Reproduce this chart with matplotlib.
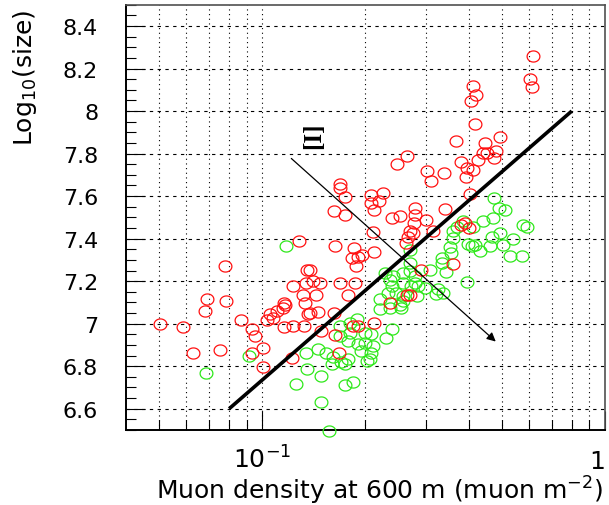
import numpy as np
import matplotlib
matplotlib.use("Agg")
import matplotlib.pyplot as plt
from matplotlib.path import Path
from matplotlib.transforms import blended_transform_factory

plt.rcParams['font.family'] = ['DejaVu Sans']
plt.rcParams['mathtext.fontset'] = 'dejavusans'

# log10(muon density) and log10(size)
red_log_rho = [-1.110, -1.162, -1.107, -1.166, -1.299, -1.232, -1.061, -1.030, -1.020, -1.202,
               -1.124, -0.998, -1.030, -0.997, -0.987, -0.979, -0.958, -0.970, -0.937, -0.911,
               -0.937, -0.912, -0.878, -0.914, -0.870, -0.893, -0.881, -0.842, -0.876, -0.862,
               -0.838, -0.867, -0.935, -0.940, -0.791, -0.828, -0.789, -0.735, -0.721, -0.674,
               -0.776, -0.628, -0.579, -0.750, -0.579, -0.607, -0.774, -0.774, -0.760, -0.682,
               -0.649, -0.659, -0.682, -0.675, -0.791, -0.759, -0.623, -0.597, -0.554, -0.555,
               -0.558, -0.677, -0.788, -0.733, -0.674, -0.708, -0.737, -0.721, -0.727, -0.862,
               -0.874, -0.852, -0.831, -0.774, -0.730, -0.570, -0.560, -0.575, -0.581, -0.209,
               -0.219, -0.214, -0.385, -0.375, -0.391, -0.380, -0.307, -0.435, -0.350, -0.357,
               -0.344, -0.318, -0.324, -0.370, -0.419, -0.404, -0.385, -0.406, -0.519, -0.509,
               -0.470, -0.394, -0.521, -0.467, -0.502, -0.409, -0.396, -0.419, -0.443, -0.536,
               -0.570]
red_log_size = [7.273, 7.118, 7.109, 7.059, 7.000, 6.986, 7.019, 6.973, 6.942, 6.862,
                6.874, 6.884, 6.864, 6.794, 7.015, 7.044, 7.062, 7.025, 7.098, 7.176,
                6.984, 6.989, 6.989, 6.837, 7.251, 7.390, 7.137, 7.137, 7.095, 7.052,
                7.054, 7.044, 7.090, 7.075, 7.048, 6.965, 6.945, 6.989, 6.989, 7.005,
                6.864, 7.098, 7.133, 7.133, 7.790, 7.751, 7.657, 7.638, 7.598, 7.606,
                7.616, 7.578, 7.567, 7.535, 7.532, 7.513, 7.496, 7.507, 7.543, 7.512,
                7.473, 7.429, 7.367, 7.354, 7.335, 7.325, 7.309, 7.314, 7.270, 7.254,
                7.189, 7.200, 7.192, 7.189, 7.192, 7.434, 7.426, 7.410, 7.379, 8.261,
                8.152, 8.113, 8.116, 8.074, 8.046, 7.941, 7.879, 7.859, 7.848, 7.801,
                7.801, 7.812, 7.778, 7.770, 7.762, 7.731, 7.723, 7.691, 7.718, 7.671,
                7.707, 7.610, 7.489, 7.540, 7.434, 7.473, 7.450, 7.465, 7.281, 7.254,
                7.137]

green_log_rho = [-1.038, -1.164, -0.932, -0.874, -0.871, -0.901, -0.657, -0.633, -0.594, -0.589,
                 -0.725, -0.774, -0.774, -0.745, -0.701, -0.682, -0.623, -0.638, -0.750, -0.721,
                 -0.701, -0.677, -0.711, -0.682, -0.687, -0.696, -0.838, -0.813, -0.794, -0.798,
                 -0.769, -0.750, -0.760, -0.828, -0.760, -0.735, -0.828, -0.805, -0.745, -0.618,
                 -0.628, -0.623, -0.589, -0.570, -0.555, -0.565, -0.545, -0.589, -0.550, -0.570,
                 -0.323, -0.309, -0.292, -0.328, -0.356, -0.385, -0.414, -0.433, -0.443, -0.239,
                 -0.229, -0.307, -0.331, -0.268, -0.297, -0.336, -0.365, -0.380, -0.399, -0.389,
                 -0.278, -0.242, -0.443, -0.453, -0.448, -0.477, -0.477, -0.465, -0.511, -0.526,
                 -0.487, -0.472, -0.492, -0.404, -0.555, -0.589, -0.609, -0.628, -0.599, -0.657,
                 -0.570, -0.643]
green_log_size = [6.848, 6.769, 7.367, 6.864, 6.786, 6.716, 7.117, 7.145, 7.075, 7.106,
                  7.020, 6.989, 6.942, 6.958, 6.958, 6.950, 6.977, 6.931, 6.918, 6.903,
                  6.911, 6.895, 6.872, 6.864, 6.836, 6.825, 6.880, 6.864, 6.841, 6.809,
                  6.820, 6.833, 6.809, 6.752, 6.711, 6.724, 6.633, 6.497, 7.005, 7.223,
                  7.207, 7.176, 7.239, 7.246, 7.223, 7.176, 7.176, 7.129, 7.129, 7.348,
                  7.590, 7.543, 7.535, 7.496, 7.484, 7.457, 7.484, 7.457, 7.434, 7.465,
                  7.457, 7.426, 7.406, 7.398, 7.368, 7.363, 7.343, 7.371, 7.375, 7.363,
                  7.317, 7.320, 7.403, 7.359, 7.333, 7.309, 7.286, 7.242, 7.254, 7.169,
                  7.161, 7.145, 7.141, 7.195, 7.192, 7.192, 7.145, 7.075, 7.090, 7.067,
                  7.286, 7.239]

# separation line and direction arrow
cut_rho = [0.08, 0.8]
cut_size = [6.6, 8.0]
arrow_start = (0.1215, 7.777)
arrow_end = (0.480, 6.916)
arrow_label = "[I]"
arrow_label_pos = (0.141, 7.887)

y_major = [6.6, 6.8, 7.0, 7.2, 7.4, 7.6, 7.8, 8.0, 8.2, 8.4]
x_minor = [0.05, 0.06, 0.07, 0.08, 0.09, 0.2, 0.3, 0.4, 0.5, 0.6, 0.7, 0.8, 0.9]

fig = plt.figure(figsize=(6.09, 5.06), dpi=100)
ax = fig.add_axes([0.2069, 0.1482, 0.7865, 0.8405])

# slightly wide open rings, like the reference (polygon so the size is exact)
t = np.linspace(0, 2 * np.pi, 61)
ring = Path(np.column_stack([np.cos(t), np.sin(t) / 1.15]), closed=True)

ax.plot(10 ** np.array(green_log_rho), green_log_size, ls='none', marker=ring,
        ms=9.2, mfc='none', mec='#2ee81a', mew=0.9, clip_on=False, zorder=3)
ax.plot(10 ** np.array(red_log_rho), red_log_size, ls='none', marker=ring,
        ms=9.2, mfc='none', mec='#ff1010', mew=0.9, clip_on=False, zorder=4)

ax.plot(cut_rho, cut_size, color='k', lw=2.6, solid_capstyle='butt', zorder=5)
ax.annotate('', xy=arrow_end, xytext=arrow_start,
            arrowprops=dict(arrowstyle='-|>', color='k', lw=0.9, mutation_scale=13,
                            shrinkA=0, shrinkB=0), zorder=5)
ax.text(arrow_label_pos[0], arrow_label_pos[1], arrow_label, rotation=90,
        ha='center', va='center', fontsize=18, fontweight='bold',
        family=['Liberation Serif', 'DejaVu Serif'])

ax.set_xscale('log')
ax.set_xlim(0.04, 1)
ax.set_ylim(6.5, 8.5)

# ticks
ax.set_xticks([0.1, 1])
ax.set_xticks(x_minor, minor=True)
ax.set_xticklabels([])
ax.set_xticklabels([], minor=True)
ax.set_yticks(y_major)
ax.set_yticks(np.arange(6.5, 8.5001, 0.05), minor=True)
ax.set_yticklabels(['%g' % v for v in y_major], fontsize=16)
ax.tick_params(axis='both', which='both', direction='in', top=False, right=False, color='k')
ax.tick_params(axis='both', which='major', length=14, width=0.8)
ax.tick_params(axis='both', which='minor', length=7, width=0.8)
ax.tick_params(axis='y', which='major', pad=20)

# x tick labels drawn on a common baseline
trans = blended_transform_factory(ax.transData, ax.transAxes)
ax.text(0.1, -0.089, r'$10^{-1}$', transform=trans, ha='center', va='baseline', fontsize=18)
ax.text(1.0, -0.089, '1', transform=trans, ha='right', va='baseline', fontsize=18)

# dotted grid
for xv in [0.1] + x_minor:
    ax.axvline(xv, color='k', lw=0.8, ls=(0, (1.0, 3.2)), zorder=1)
for yv in y_major:
    ax.axhline(yv, color='k', lw=0.8, ls=(0, (3.0, 4.0)), zorder=1)

for side in ['left', 'bottom']:
    ax.spines[side].set_linewidth(1.4)
    ax.spines[side].set_color('k')
for side in ['top', 'right']:
    ax.spines[side].set_linewidth(1.2)
    ax.spines[side].set_color('#505050')

ax.set_xlabel(r'Muon density at 600 m (muon m$^{-2}$)', fontsize=18, loc='right')
ax.xaxis.set_label_coords(0.996, -0.104)
ax.set_ylabel(r'Log$_{10}$(size)', fontsize=18, loc='top')
ax.yaxis.set_label_coords(-0.182, 0.99)

fig.savefig('out.png', dpi=100)
